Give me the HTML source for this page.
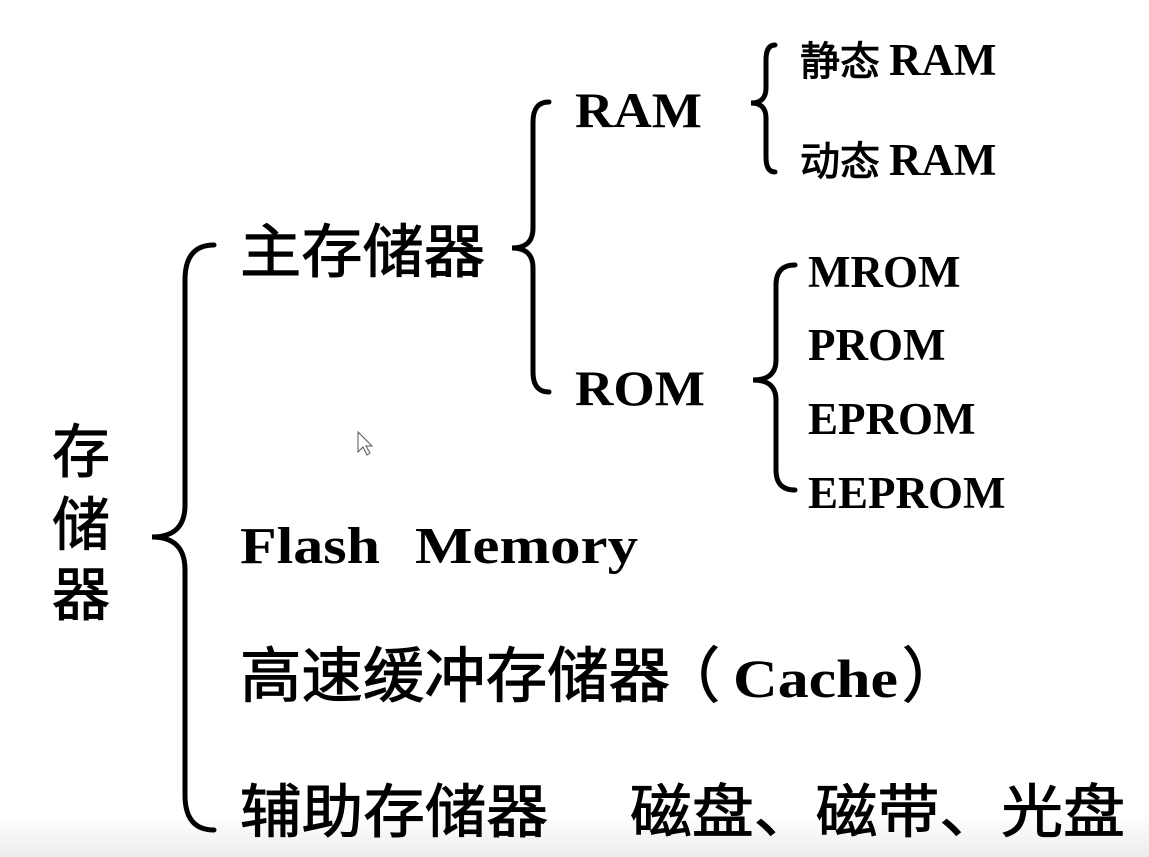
<!DOCTYPE html>
<html><head><meta charset="utf-8"><style>
html,body{margin:0;padding:0;background:#fff;}
body{width:1149px;height:857px;overflow:hidden;position:relative;}
.bg{position:absolute;left:0;top:815px;width:1149px;height:42px;background:linear-gradient(#fff,#ececec);}
svg{position:absolute;left:0;top:0;}
.cj{font-family:"Noto Sans CJK SC","WenQuanYi Zen Hei",sans-serif;fill:#000;stroke:#000;stroke-width:1;}
.lt{font-family:"Liberation Serif",serif;font-weight:bold;fill:#000;stroke:none;}
</style></head><body>
<div class="bg"></div>
<svg width="1149" height="857" viewBox="0 0 1149 857">
<g fill="none" stroke="#000" stroke-width="5" stroke-linecap="round">
<path d="M214,245 Q185,245 185,280 L185,505 Q185,537 152,537 Q185,537 185,570 L185,795 Q185,830 214,830"/>
<path d="M549,102 Q533,102 533,122 L533,228 Q533,248 512,248 Q533,248 533,268 L533,372 Q533,392 549,392"/>
<path d="M775,45 Q766,45 766,60 L766,88 Q766,103 751,103 Q766,103 766,118 L766,157 Q766,172 775,172"/>
<path d="M795,265 Q776,265 776,285 L776,360 Q776,380 753,380 Q776,380 776,400 L776,470 Q776,490 795,490"/>
</g>
<text class="cj" x="52" y="472" font-size="58">存</text>
<text class="cj" x="52" y="545" font-size="58">储</text>
<text class="cj" x="52" y="615" font-size="58">器</text>
<text class="cj" x="240" y="272" font-size="58" textLength="245" lengthAdjust="spacingAndGlyphs">主存储器</text>
<text class="lt" x="575" y="127" font-size="50" textLength="127" lengthAdjust="spacingAndGlyphs">RAM</text>
<text class="lt" x="575" y="405" font-size="50" textLength="130" lengthAdjust="spacingAndGlyphs">ROM</text>
<text x="800" y="75"><tspan class="cj" font-size="40">静态 </tspan><tspan class="lt" font-size="45">RAM</tspan></text>
<text x="800" y="175"><tspan class="cj" font-size="40">动态 </tspan><tspan class="lt" font-size="45">RAM</tspan></text>
<text class="lt" x="808" y="287" font-size="45">MROM</text>
<text class="lt" x="808" y="360" font-size="45">PROM</text>
<text class="lt" x="808" y="434" font-size="45">EPROM</text>
<text class="lt" x="808" y="508" font-size="45">EEPROM</text>
<text class="lt" x="240" y="563" font-size="52" textLength="140" lengthAdjust="spacingAndGlyphs">Flash</text>
<text class="lt" x="415" y="563" font-size="52" textLength="223" lengthAdjust="spacingAndGlyphs">Memory</text>
<text class="cj" x="240" y="697" font-size="60" textLength="430" lengthAdjust="spacingAndGlyphs">高速缓冲存储器</text>
<text class="cj" x="660" y="697" font-size="60">（</text>
<text class="lt" x="733" y="697" font-size="54" textLength="165" lengthAdjust="spacingAndGlyphs">Cache</text>
<text class="cj" x="902" y="697" font-size="60">）</text>
<text class="cj" x="240" y="832" font-size="58" textLength="308" lengthAdjust="spacingAndGlyphs">辅助存储器</text>
<text class="cj" x="630" y="832" font-size="58" textLength="495" lengthAdjust="spacingAndGlyphs">磁盘、磁带、光盘</text>
<path d="M358,432 L358,452 L363,447 L367,455 L370,453 L366,446 L372,446 Z" fill="#fff" stroke="#555" stroke-width="1"/>
</svg>
</body></html>
